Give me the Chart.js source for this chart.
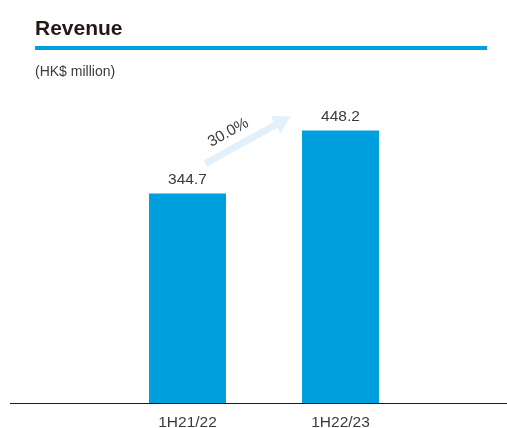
<!DOCTYPE html>
<html>
<head>
<meta charset="utf-8">
<title>Revenue</title>
<style>
  html, body { margin: 0; padding: 0; background: #ffffff; }
  #wrap { width: 507px; height: 428px; }
</style>
</head>
<body>
<div id="wrap"><canvas id="myChart" width="507" height="428"></canvas></div>
<script src="https://cdn.jsdelivr.net/npm/chart.js"></script>
<script>
// Chart data
const categories = ['1H21/22', '1H22/23'];
const revenue = [344.7, 448.2];
const valueLabels = ['344.7', '448.2'];
const growthLabel = '30.0%';

const BLUE = '#009fde';
const TEXT = '#3e3a39';
const FONT = '"Liberation Sans", Arial, Helvetica, sans-serif';

// Header: title, blue rule and unit note
const headerPlugin = {
  id: 'header',
  beforeDraw(chart) {
    const c = chart.ctx;
    c.save();
    c.fillStyle = '#231815';
    c.font = 'bold 21px ' + FONT;
    c.textBaseline = 'alphabetic';
    c.fillText('Revenue', 35, 35);
    c.fillStyle = BLUE;
    c.fillRect(35, 46, 452, 4);
    c.fillStyle = TEXT;
    c.font = '14px ' + FONT;
    c.fillText('(HK$ million)', 35, 76);
    c.restore();
  }
};

// Baseline across the full width
const baselinePlugin = {
  id: 'baseline',
  afterDatasetsDraw(chart) {
    const c = chart.ctx;
    const y = chart.scales.y.getPixelForValue(0);
    c.save();
    c.strokeStyle = '#231815';
    c.lineWidth = 1;
    c.beginPath();
    c.moveTo(10, Math.round(y) + 0.5);
    c.lineTo(507, Math.round(y) + 0.5);
    c.stroke();
    c.restore();
  }
};

// Value labels above bars + growth arrow
const labelsPlugin = {
  id: 'valueLabels',
  afterDatasetsDraw(chart) {
    const c = chart.ctx;
    const bars = chart.getDatasetMeta(0).data;
    c.save();
    c.fillStyle = TEXT;
    c.font = '15.5px ' + FONT;
    c.textAlign = 'center';
    c.textBaseline = 'alphabetic';
    bars.forEach((b, i) => c.fillText(valueLabels[i], b.x, b.y - 10));

    // arrow from bar 1 label towards bar 2 label
    const b1 = bars[0], b2 = bars[1];
    const sx = b1.x + 18, sy = b1.y - 30;
    const ex = b2.x - 50, ey = b2.y - 14;
    const ang = Math.atan2(ey - sy, ex - sx);
    const len = Math.hypot(ex - sx, ey - sy);
    const headLen = 17, headW = 10, shaftW = 3.5;
    c.translate(sx, sy);
    c.rotate(ang);
    c.fillStyle = '#e2f0fb';
    c.beginPath();
    c.moveTo(0, -shaftW);
    c.lineTo(len - headLen, -shaftW);
    c.lineTo(len - headLen, -headW);
    c.lineTo(len, 0);
    c.lineTo(len - headLen, headW);
    c.lineTo(len - headLen, shaftW);
    c.lineTo(0, shaftW);
    c.closePath();
    c.fill();
    c.fillStyle = TEXT;
    c.font = '15.5px ' + FONT;
    c.textAlign = 'center';
    c.textBaseline = 'middle';
    c.fillText(growthLabel, len * 0.36, -16);
    c.restore();
  }
};

new Chart(document.getElementById('myChart'), {
  type: 'bar',
  data: {
    labels: categories,
    datasets: [{
      data: revenue,
      backgroundColor: BLUE,
      borderWidth: 0,
      barPercentage: 0.503,
      categoryPercentage: 1.0
    }]
  },
  options: {
    responsive: false,
    animation: false,
    layout: { padding: { top: 99, left: 111, right: 90, bottom: -14 } },
    plugins: {
      legend: { display: false },
      tooltip: { enabled: false }
    },
    scales: {
      y: { display: false, min: 0, max: 500 },
      x: {
        grid: { display: false, drawTicks: false },
        border: { display: false },
        ticks: {
          color: TEXT,
          padding: 10,
          font: { family: FONT, size: 15.5 }
        }
      }
    }
  },
  plugins: [headerPlugin, baselinePlugin, labelsPlugin]
});
</script>
</body>
</html>
